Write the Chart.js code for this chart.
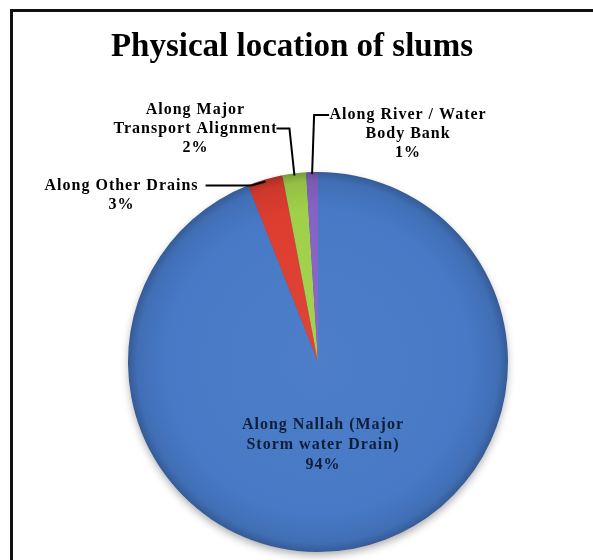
<!DOCTYPE html>
<html>
<head>
<meta charset="utf-8">
<script src="https://cdn.jsdelivr.net/npm/chart.js@4"></script>
<style>
  html, body { margin: 0; padding: 0; background: #fff; }
  #wrap { position: relative; width: 593px; height: 560px; overflow: hidden; background: #fff; }
  #frame { position: absolute; left: 10px; top: 9px; width: 700px; height: 700px;
           border-left: 3px solid #111; border-top: 3px solid #111; }
  #c { position: absolute; left: 0; top: 0; }
</style>
</head>
<body>
<div id="wrap">
  <div id="frame"></div>
  <canvas id="c" width="593" height="560"></canvas>
</div>
<script>
// Slum locations, share of slums (%)
const categories = [
  'Along Nallah (Major Storm water Drain)',
  'Along Other Drains',
  'Along Major Transport Alignment',
  'Along River / Water Body Bank'
];
const shares = [94, 3, 2, 1];
const labelLines = [
  ['Along Nallah (Major', 'Storm water Drain)'],
  ['Along Other Drains'],
  ['Along Major', 'Transport Alignment'],
  ['Along River / Water', 'Body Bank']
];
const titleText = 'Physical location of slums';

const sliceColors = ['#4779c6', '#dd3d2f', '#a0d04a', '#8762c4'];

function shade(hex, f) {
  const n = parseInt(hex.slice(1), 16);
  let r = (n >> 16) & 255, g = (n >> 8) & 255, b = n & 255;
  const m = v => Math.max(0, Math.min(255, Math.round(f >= 0 ? v + (255 - v) * f : v * (1 + f))));
  return `rgb(${m(r)},${m(g)},${m(b)})`;
}

// radial gradient giving the slices a soft rounded look
function sliceFill(ctx) {
  const chart = ctx.chart;
  const area = chart.chartArea;
  const base = sliceColors[ctx.dataIndex];
  if (!area) return base;
  const cx = (area.left + area.right) / 2, cy = (area.top + area.bottom) / 2;
  const r = Math.min(area.right - area.left, area.bottom - area.top) / 2;
  const g = chart.ctx.createRadialGradient(cx, cy, 0, cx, cy, r);
  g.addColorStop(0, shade(base, 0.04));
  g.addColorStop(0.8, base);
  g.addColorStop(0.95, shade(base, -0.08));
  g.addColorStop(1, shade(base, -0.25));
  return g;
}

const FONT = '"Liberation Serif", "Times New Roman", serif';

function drawLines(ctx, lines, cx, y0, lh) {
  lines.forEach((t, i) => {
    const w = ctx.measureText(t).width;
    ctx.fillText(t, cx - w / 2, y0 + i * lh);
  });
}

const decorPlugin = {
  id: 'decor',
  beforeDatasetsDraw(chart) {
    const ctx = chart.ctx;
    const arc = chart.getDatasetMeta(0).data[0];
    const { x, y, outerRadius } = arc.getProps(['x', 'y', 'outerRadius'], true);
    ctx.save();
    ctx.shadowColor = 'rgba(0,0,0,0.35)';
    ctx.shadowBlur = 9;
    ctx.shadowOffsetY = 4;
    ctx.fillStyle = shade(sliceColors[0], -0.2);
    ctx.beginPath();
    ctx.arc(x, y, outerRadius - 1, 0, Math.PI * 2);
    ctx.fill();
    ctx.restore();
  },
  afterDatasetsDraw(chart) {
    const ctx = chart.ctx;
    const meta = chart.getDatasetMeta(0);
    const lh = 19;
    ctx.save();
    ctx.font = `bold 16px ${FONT}`;
    ctx.letterSpacing = '1px';
    ctx.textBaseline = 'middle';
    ctx.strokeStyle = '#000';
    ctx.lineWidth = 2;

    meta.data.forEach((arc, i) => {
      const p = arc.getProps(['x', 'y', 'startAngle', 'endAngle', 'outerRadius'], true);
      const mid = (p.startAngle + p.endAngle) / 2;
      const ex = p.x + Math.cos(mid) * (p.outerRadius - 2);
      const ey = p.y + Math.sin(mid) * (p.outerRadius - 2);
      const lines = labelLines[i].concat([shares[i] + '%']);

      if (i === 0) {
        ctx.fillStyle = '#0f1e38';
        drawLines(ctx, lines, p.x + 5, p.y + 63, lh + 1);
        return;
      }
      ctx.fillStyle = '#000';
      let pts, cx, y0;
      if (i === 1) {
        pts = [[ex, ey], [ex - 14, ey + 4], [ex - 60, ey + 4]];
        cx = ex - 144; y0 = ey + 4;
      } else if (i === 2) {
        pts = [[ex, ey], [ex - 5, ey - 47], [ex - 18, ey - 47]];
        cx = ex - 99; y0 = ey - 66;
      } else {
        pts = [[ex, ey], [ex + 2, ey - 59], [ex + 17, ey - 59]];
        cx = ex + 96; y0 = ey - 59;
      }
      ctx.beginPath();
      ctx.moveTo(pts[0][0], pts[0][1]);
      pts.slice(1).forEach(q => ctx.lineTo(q[0], q[1]));
      ctx.stroke();
      drawLines(ctx, lines, cx, y0, lh);
    });

    ctx.font = `bold 33px ${FONT}`;
    ctx.letterSpacing = '0px';
    ctx.textBaseline = 'alphabetic';
    ctx.fillStyle = '#000';
    const tw = ctx.measureText(titleText).width;
    ctx.fillText(titleText, 292 - tw / 2, 56);
    ctx.restore();
  }
};

new Chart(document.getElementById('c'), {
  type: 'pie',
  data: {
    labels: categories,
    datasets: [{
      data: shares,
      backgroundColor: sliceFill,
      borderWidth: 0
    }]
  },
  options: {
    responsive: false,
    devicePixelRatio: 1,
    animation: false,
    layout: { padding: { left: 128, right: 85, top: 172, bottom: 8 } },
    plugins: {
      legend: { display: false },
      tooltip: { enabled: false },
      title: { display: false }
    }
  },
  plugins: [decorPlugin]
});
</script>
</body>
</html>
